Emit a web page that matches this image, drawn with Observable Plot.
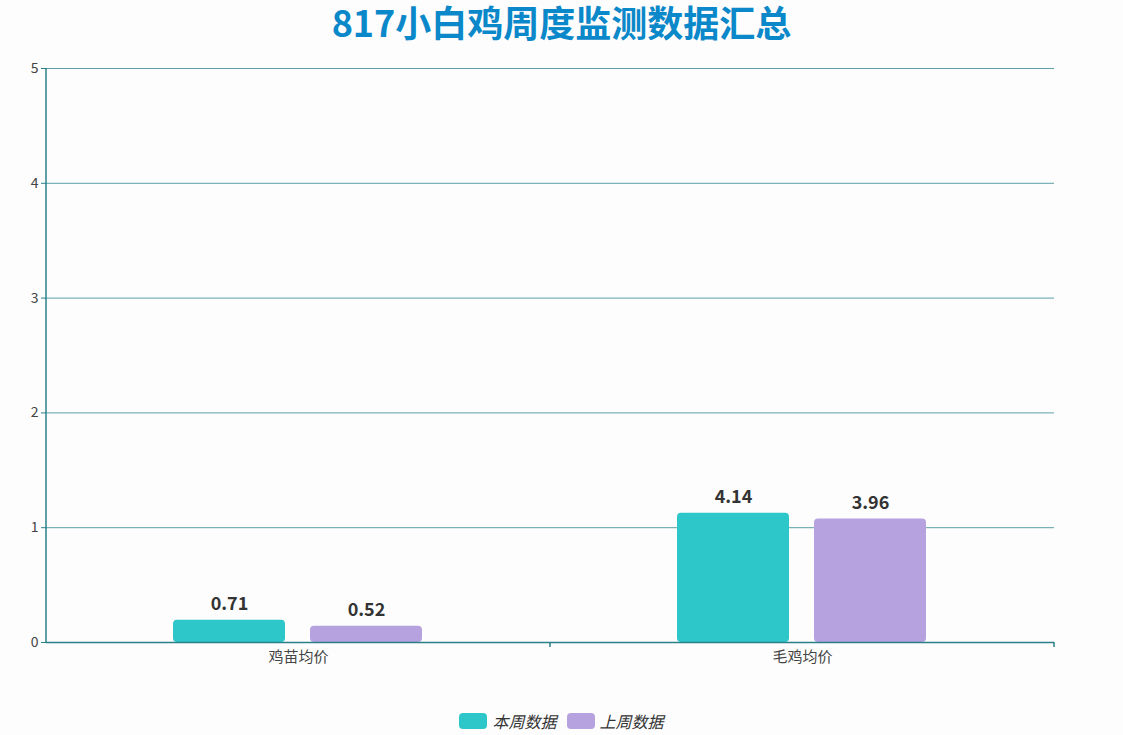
<!DOCTYPE html>
<html>
<head>
<meta charset="utf-8">
<script src="https://cdn.jsdelivr.net/npm/d3@7"></script>
<script src="https://cdn.jsdelivr.net/npm/@observablehq/plot@0.6"></script>
<style>
  html, body { margin: 0; padding: 0; background: #fdfdfd; }
  body { width: 1123px; height: 735px; overflow: hidden; font-family: "Noto Sans CJK SC", "Noto Sans", sans-serif; }
  #title { height: 45px; line-height: 42px; text-align: center; font-size: 36px; font-weight: bold; color: #0a88c9; white-space: nowrap; }
  #legend { display: flex; justify-content: center; align-items: center; gap: 10px; margin-top: 17px; font-size: 16px; font-style: italic; color: #333; }
  .item { display: flex; align-items: center; gap: 5px; }
  .sw { width: 28px; height: 16px; border-radius: 4px; display: inline-block; }
</style>
</head>
<body>
<div id="title">817小白鸡周度监测数据汇总</div>
<div id="chart"></div>
<div id="legend"></div>
<script>
// ---- data ----
const categories = ["鸡苗均价", "毛鸡均价"];
const seriesNames = ["本周数据", "上周数据"];
const thisWeek = [0.71, 4.14];
const lastWeek = [0.52, 3.96];
const colors = ["#2ec7c9", "#b6a2de"];
const yTickLabels = [0, 1, 2, 3, 4, 5];
// in the original the axis unit corresponds to about 3.68 of the labelled bar values
const axisUnit = 3.68;

const rows = [];
categories.forEach((c, i) => {
  rows.push({category: c, series: seriesNames[0], value: thisWeek[i]});
  rows.push({category: c, series: seriesNames[1], value: lastWeek[i]});
});
const yTickValues = yTickLabels.map(t => t * axisUnit);

const axisColor = "#2a7f89";
const gridColor = "#5c9fa6";

const plot = Plot.plot({
  width: 1123,
  height: 647,
  marginLeft: 45,
  marginRight: 69,
  marginTop: 23,
  marginBottom: 50,
  style: {background: "transparent", fontFamily: "'Noto Sans CJK SC', 'Noto Sans', sans-serif", fontSize: "14px", color: "#333"},
  fx: {domain: categories, padding: 0, label: null},
  x: {domain: seriesNames, paddingInner: 0.181, paddingOuter: 0.92, axis: null},
  y: {domain: [0, 5 * axisUnit], label: null},
  color: {domain: seriesNames, range: colors},
  marks: [
    Plot.gridY(yTickValues, {stroke: gridColor, strokeOpacity: 1}),
    Plot.axisY(yTickValues, {tickSize: 5, tickPadding: 3, stroke: axisColor, fill: "#444", fontSize: 14, label: null, tickFormat: d => String(Math.round(d / axisUnit))}),
    Plot.axisFx({anchor: "bottom", tickSize: 0, tickPadding: 9, fontSize: 15, fill: "#444", label: null}),
    Plot.barY(rows, {fx: "category", x: "series", y: "value", fill: "series", rx: 4}),
    Plot.text(rows, {fx: "category", x: "series", y: "value", text: d => d.value.toFixed(2), dy: -16, fontSize: 18, fontWeight: "bold", fill: "#333"}),
    Plot.ruleY([0], {stroke: axisColor, strokeWidth: 1.5})
  ]
});

document.getElementById("chart").appendChild(plot);

// axis line on the left and boundary ticks below the category axis
const svg = d3.select(plot);
const fx = plot.scale("fx");
const ys = plot.scale("y");
const yBottom = Math.max(...ys.range), yTop = Math.min(...ys.range);
const left = fx.apply(categories[0]);
svg.append("line").attr("x1", left).attr("x2", left).attr("y1", yTop).attr("y2", yBottom)
  .attr("stroke", axisColor).attr("stroke-width", 1.5);
categories.forEach(c => {
  const xr = fx.apply(c) + fx.bandwidth;
  svg.append("line").attr("x1", xr).attr("x2", xr).attr("y1", yBottom).attr("y2", yBottom + 5)
    .attr("stroke", axisColor).attr("stroke-width", 1.5);
});

// legend
const legend = d3.select("#legend");
seriesNames.forEach((s, i) => {
  const it = legend.append("div").attr("class", "item");
  it.append("span").attr("class", "sw").style("background", colors[i]);
  it.append("span").text(s);
});
</script>
</body>
</html>
